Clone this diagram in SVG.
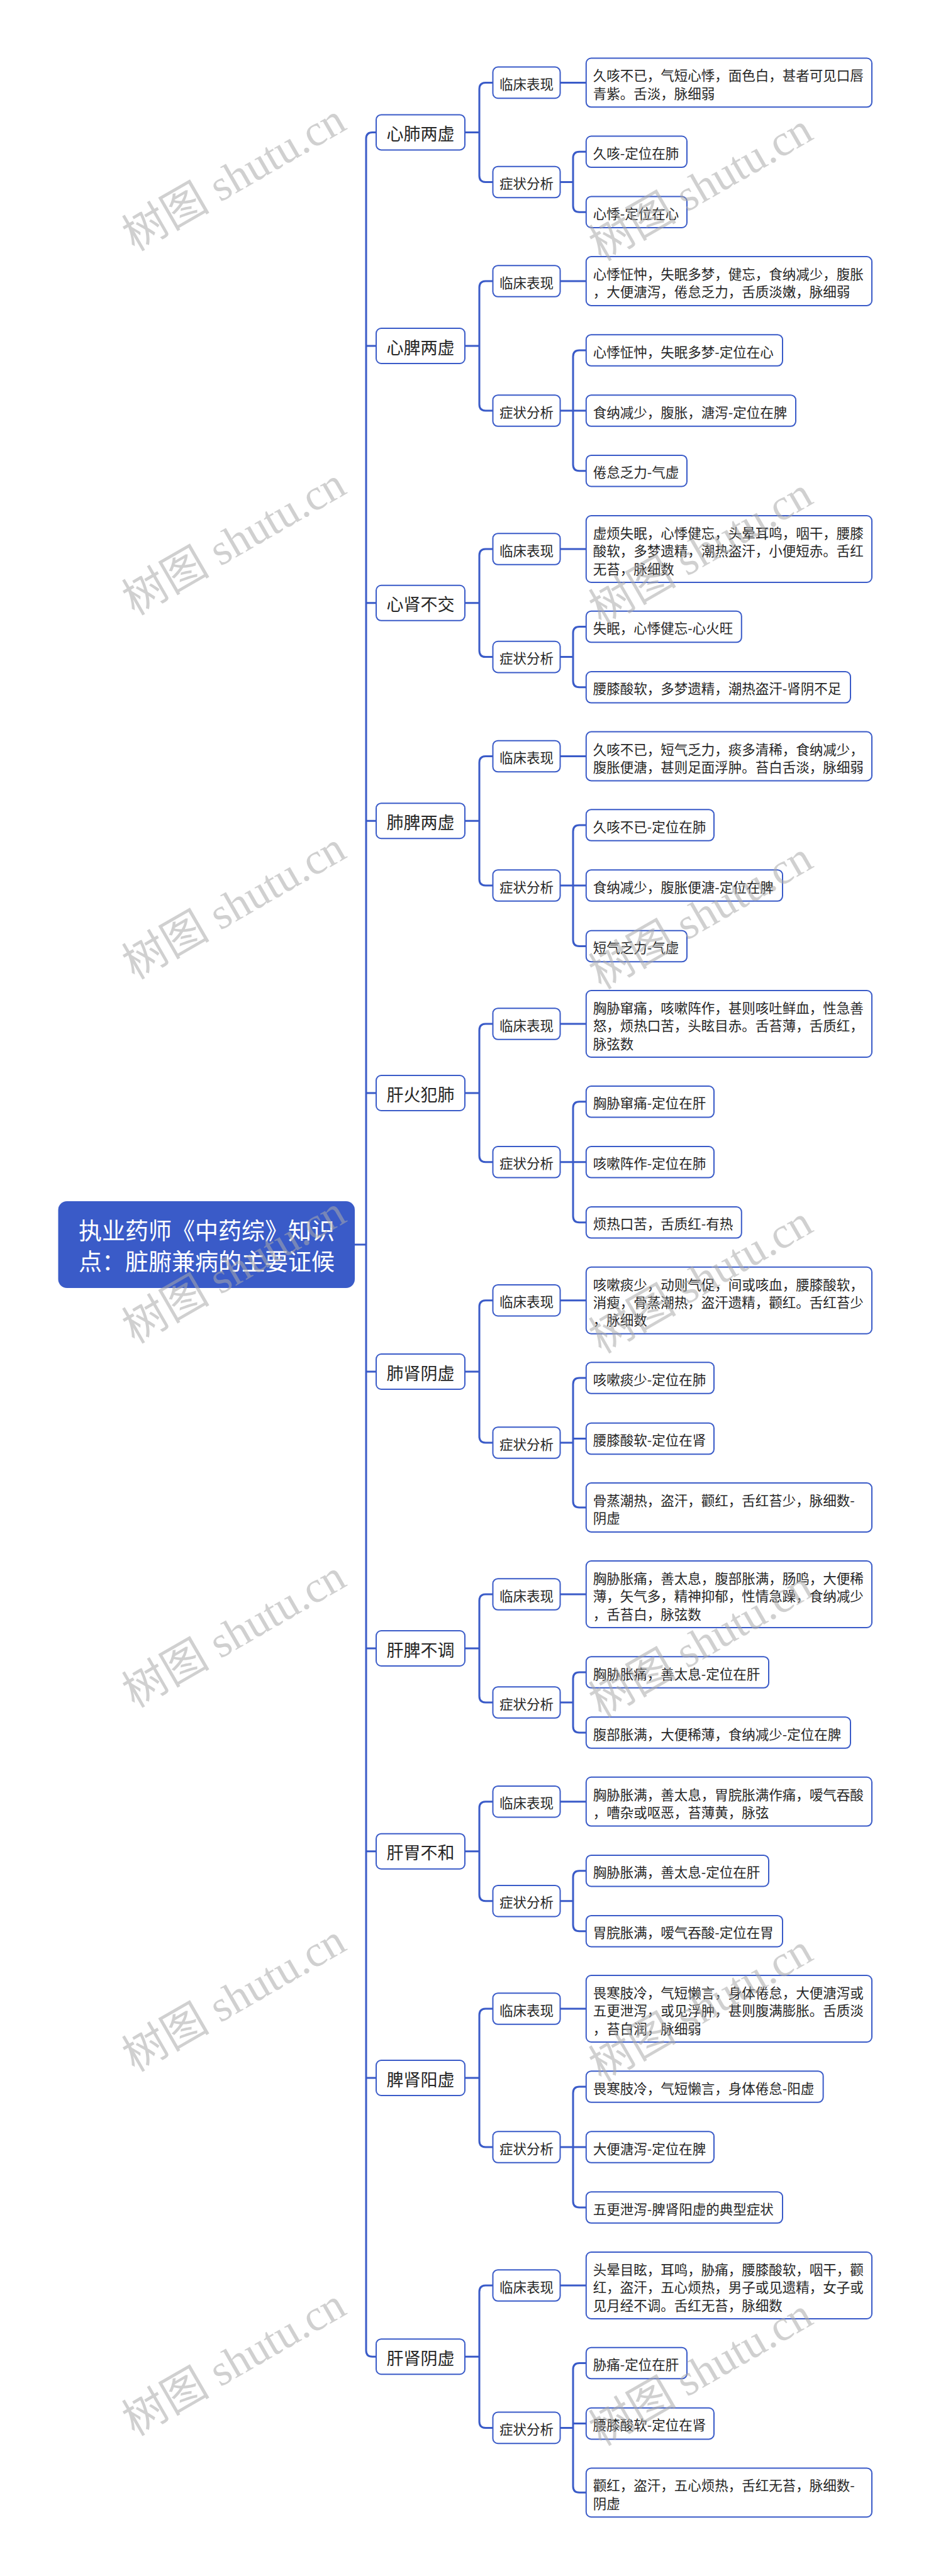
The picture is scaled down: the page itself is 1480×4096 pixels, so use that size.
<svg xmlns="http://www.w3.org/2000/svg" width="1480" height="4096" viewBox="0 0 1480 4096">
<style>
.bx{fill:#fff;stroke:#3a5bc8;stroke-width:2}
.t{font-family:"Noto Sans CJK SC","Liberation Sans",sans-serif;fill:#262626;dominant-baseline:central}
.s{font-size:21.5px}
.m{font-size:27px;text-anchor:middle}
.l2{font-size:21.5px;text-anchor:middle}
.c{fill:none;stroke:#3a5bc8;stroke-width:3}
.wm{font-family:"Liberation Serif","Noto Sans CJK SC",serif;font-size:70px;fill:#aaaaaa;fill-opacity:0.55;text-anchor:middle;dominant-baseline:central}
</style>
<rect x="0" y="0" width="1480" height="4096" fill="#ffffff"/>
<g id="connectors">
<path class="c" d="M564,1979 H582"/>
<path class="c" d="M598,210.4 H592 Q582,210.4 582,220.4 V3737.2 Q582,3747.2 592,3747.2 H598"/>
<path class="c" d="M582,550 H598 M582,958.8 H598 M582,1305.2 H598 M582,1738 H598 M582,2181 H598 M582,2621 H598 M582,2943.7 H598 M582,3304 H598"/>
<path class="c" d="M739,210.4 H762 M783.5,131.4 H772 Q762,131.4 762,141.4 V279.5 Q762,289.5 772,289.5 H783.5"/>
<path class="c" d="M739,550 H762 M783.5,447 H772 Q762,447 762,457 V643 Q762,653 772,653 H783.5"/>
<path class="c" d="M739,958.8 H762 M783.5,873 H772 Q762,873 762,883 V1034.6 Q762,1044.6 772,1044.6 H783.5"/>
<path class="c" d="M739,1305.2 H762 M783.5,1202.5 H772 Q762,1202.5 762,1212.5 V1398 Q762,1408 772,1408 H783.5"/>
<path class="c" d="M739,1738 H762 M783.5,1628 H772 Q762,1628 762,1638 V1837.8 Q762,1847.8 772,1847.8 H783.5"/>
<path class="c" d="M739,2181 H762 M783.5,2067.7 H772 Q762,2067.7 762,2077.7 V2284 Q762,2294 772,2294 H783.5"/>
<path class="c" d="M739,2621 H762 M783.5,2535 H772 Q762,2535 762,2545 V2697 Q762,2707 772,2707 H783.5"/>
<path class="c" d="M739,2943.7 H762 M783.5,2864.7 H772 Q762,2864.7 762,2874.7 V3012.7 Q762,3022.7 772,3022.7 H783.5"/>
<path class="c" d="M739,3304 H762 M783.5,3194 H772 Q762,3194 762,3204 V3404 Q762,3414 772,3414 H783.5"/>
<path class="c" d="M739,3747.2 H762 M783.5,3634 H772 Q762,3634 762,3644 V3850.4 Q762,3860.4 772,3860.4 H783.5"/>
<path class="c" d="M890.5,131.4 H931.8 M890.5,289.5 H911 M931.8,241.3 H921 Q911,241.3 911,251.3 V327.2 Q911,337.2 921,337.2 H931.8"/>
<path class="c" d="M890.5,447 H931.8 M890.5,653 H911 M931.8,557 H921 Q911,557 911,567 V738.7 Q911,748.7 921,748.7 H931.8 M911,653 H931.8"/>
<path class="c" d="M890.5,873 H931.8 M890.5,1044.6 H911 M931.8,996.5 H921 Q911,996.5 911,1006.5 V1082.8 Q911,1092.8 921,1092.8 H931.8"/>
<path class="c" d="M890.5,1202.5 H931.8 M890.5,1408 H911 M931.8,1312 H921 Q911,1312 911,1322 V1494.5 Q911,1504.5 921,1504.5 H931.8 M911,1408 H931.8"/>
<path class="c" d="M890.5,1628 H931.8 M890.5,1847.8 H911 M931.8,1751.8 H921 Q911,1751.8 911,1761.8 V1933.8 Q911,1943.8 921,1943.8 H931.8 M911,1847.8 H931.8"/>
<path class="c" d="M890.5,2067.7 H931.8 M890.5,2294 H911 M931.8,2191 H921 Q911,2191 911,2201 V2387 Q911,2397 921,2397 H931.8 M911,2287.5 H931.8"/>
<path class="c" d="M890.5,2535 H931.8 M890.5,2707 H911 M931.8,2659 H921 Q911,2659 911,2669 V2745 Q911,2755 921,2755 H931.8"/>
<path class="c" d="M890.5,2864.7 H931.8 M890.5,3022.7 H911 M931.8,2974.7 H921 Q911,2974.7 911,2984.7 V3060.7 Q911,3070.7 921,3070.7 H931.8"/>
<path class="c" d="M890.5,3194 H931.8 M890.5,3414 H911 M931.8,3318 H921 Q911,3318 911,3328 V3500 Q911,3510 921,3510 H931.8 M911,3414 H931.8"/>
<path class="c" d="M890.5,3634 H931.8 M890.5,3860.4 H911 M931.8,3757.5 H921 Q911,3757.5 911,3767.5 V3953.3 Q911,3963.3 921,3963.3 H931.8 M911,3853.6 H931.8"/>
</g>
<g id="root">
<rect x="92.5" y="1910" width="471.5" height="138" rx="14" fill="#3a5bc8"/>
<text font-family="'Noto Sans CJK SC','Liberation Sans',sans-serif" font-size="37" fill="#ffffff" text-anchor="middle" dominant-baseline="central"><tspan x="328.5" y="1955">执业药师《中药综》知识</tspan><tspan x="328.5" y="2004">点：脏腑兼病的主要证候</tspan></text>
</g>
<g id="l1-1"><rect class="bx" x="598" y="182.4" width="141" height="56" rx="8"/><text class="t m" x="668.5" y="211.4">心肺两虚</text></g>
<g id="l1-2"><rect class="bx" x="598" y="522" width="141" height="56" rx="8"/><text class="t m" x="668.5" y="551">心脾两虚</text></g>
<g id="l1-3"><rect class="bx" x="598" y="930.8" width="141" height="56" rx="8"/><text class="t m" x="668.5" y="959.8">心肾不交</text></g>
<g id="l1-4"><rect class="bx" x="598" y="1277.2" width="141" height="56" rx="8"/><text class="t m" x="668.5" y="1306.2">肺脾两虚</text></g>
<g id="l1-5"><rect class="bx" x="598" y="1710" width="141" height="56" rx="8"/><text class="t m" x="668.5" y="1739">肝火犯肺</text></g>
<g id="l1-6"><rect class="bx" x="598" y="2153" width="141" height="56" rx="8"/><text class="t m" x="668.5" y="2182">肺肾阴虚</text></g>
<g id="l1-7"><rect class="bx" x="598" y="2593" width="141" height="56" rx="8"/><text class="t m" x="668.5" y="2622">肝脾不调</text></g>
<g id="l1-8"><rect class="bx" x="598" y="2915.7" width="141" height="56" rx="8"/><text class="t m" x="668.5" y="2944.7">肝胃不和</text></g>
<g id="l1-9"><rect class="bx" x="598" y="3276" width="141" height="56" rx="8"/><text class="t m" x="668.5" y="3305">脾肾阳虚</text></g>
<g id="l1-10"><rect class="bx" x="598" y="3719.2" width="141" height="56" rx="8"/><text class="t m" x="668.5" y="3748.2">肝肾阴虚</text></g>
<g id="l2-1a"><rect class="bx" x="783.5" y="106.6" width="107" height="49.6" rx="8"/><text class="t l2" x="837" y="132.4">临床表现</text></g>
<g id="l2-1b"><rect class="bx" x="783.5" y="264.7" width="107" height="49.6" rx="8"/><text class="t l2" x="837" y="290.5">症状分析</text></g>
<g id="l2-2a"><rect class="bx" x="783.5" y="422.2" width="107" height="49.6" rx="8"/><text class="t l2" x="837" y="448">临床表现</text></g>
<g id="l2-2b"><rect class="bx" x="783.5" y="628.2" width="107" height="49.6" rx="8"/><text class="t l2" x="837" y="654">症状分析</text></g>
<g id="l2-3a"><rect class="bx" x="783.5" y="848.2" width="107" height="49.6" rx="8"/><text class="t l2" x="837" y="874">临床表现</text></g>
<g id="l2-3b"><rect class="bx" x="783.5" y="1019.8" width="107" height="49.6" rx="8"/><text class="t l2" x="837" y="1045.6">症状分析</text></g>
<g id="l2-4a"><rect class="bx" x="783.5" y="1177.7" width="107" height="49.6" rx="8"/><text class="t l2" x="837" y="1203.5">临床表现</text></g>
<g id="l2-4b"><rect class="bx" x="783.5" y="1383.2" width="107" height="49.6" rx="8"/><text class="t l2" x="837" y="1409">症状分析</text></g>
<g id="l2-5a"><rect class="bx" x="783.5" y="1603.2" width="107" height="49.6" rx="8"/><text class="t l2" x="837" y="1629">临床表现</text></g>
<g id="l2-5b"><rect class="bx" x="783.5" y="1823" width="107" height="49.6" rx="8"/><text class="t l2" x="837" y="1848.8">症状分析</text></g>
<g id="l2-6a"><rect class="bx" x="783.5" y="2042.9" width="107" height="49.6" rx="8"/><text class="t l2" x="837" y="2068.7">临床表现</text></g>
<g id="l2-6b"><rect class="bx" x="783.5" y="2269.2" width="107" height="49.6" rx="8"/><text class="t l2" x="837" y="2295">症状分析</text></g>
<g id="l2-7a"><rect class="bx" x="783.5" y="2510.2" width="107" height="49.6" rx="8"/><text class="t l2" x="837" y="2536">临床表现</text></g>
<g id="l2-7b"><rect class="bx" x="783.5" y="2682.2" width="107" height="49.6" rx="8"/><text class="t l2" x="837" y="2708">症状分析</text></g>
<g id="l2-8a"><rect class="bx" x="783.5" y="2839.9" width="107" height="49.6" rx="8"/><text class="t l2" x="837" y="2865.7">临床表现</text></g>
<g id="l2-8b"><rect class="bx" x="783.5" y="2997.9" width="107" height="49.6" rx="8"/><text class="t l2" x="837" y="3023.7">症状分析</text></g>
<g id="l2-9a"><rect class="bx" x="783.5" y="3169.2" width="107" height="49.6" rx="8"/><text class="t l2" x="837" y="3195">临床表现</text></g>
<g id="l2-9b"><rect class="bx" x="783.5" y="3389.2" width="107" height="49.6" rx="8"/><text class="t l2" x="837" y="3415">症状分析</text></g>
<g id="l2-10a"><rect class="bx" x="783.5" y="3609.2" width="107" height="49.6" rx="8"/><text class="t l2" x="837" y="3635">临床表现</text></g>
<g id="l2-10b"><rect class="bx" x="783.5" y="3835.6" width="107" height="49.6" rx="8"/><text class="t l2" x="837" y="3861.4">症状分析</text></g>
<g id="leaf-1a"><rect class="bx" x="931.8" y="92.5" width="454.2" height="77.8" rx="8"/><text class="t s"><tspan x="942.8" y="118.4">久咳不已，气短心悸，面色白，甚者可见口唇</tspan><tspan x="942.8" y="146.8">青紫。舌淡，脉细弱</tspan></text></g>
<g id="leaf-1b"><rect class="bx" x="931.8" y="216.5" width="160.2" height="49.6" rx="8"/><text class="t s" x="942.8" y="242.3">久咳-定位在肺</text></g>
<g id="leaf-1c"><rect class="bx" x="931.8" y="312.4" width="160.2" height="49.6" rx="8"/><text class="t s" x="942.8" y="338.2">心悸-定位在心</text></g>
<g id="leaf-2a"><rect class="bx" x="931.8" y="408.1" width="454.2" height="77.8" rx="8"/><text class="t s"><tspan x="942.8" y="434">心悸怔忡，失眠多梦，健忘，食纳减少，腹胀</tspan><tspan x="942.8" y="462.4">，大便溏泻，倦怠乏力，舌质淡嫩，脉细弱</tspan></text></g>
<g id="leaf-2b"><rect class="bx" x="931.8" y="532.2" width="312.2" height="49.6" rx="8"/><text class="t s" x="942.8" y="558">心悸怔忡，失眠多梦-定位在心</text></g>
<g id="leaf-2c"><rect class="bx" x="931.8" y="628.2" width="333.2" height="49.6" rx="8"/><text class="t s" x="942.8" y="654">食纳减少，腹胀，溏泻-定位在脾</text></g>
<g id="leaf-2d"><rect class="bx" x="931.8" y="723.9" width="160.2" height="49.6" rx="8"/><text class="t s" x="942.8" y="749.7">倦怠乏力-气虚</text></g>
<g id="leaf-3a"><rect class="bx" x="931.8" y="820" width="454.2" height="106" rx="8"/><text class="t s"><tspan x="942.8" y="845.8">虚烦失眠，心悸健忘，头晕耳鸣，咽干，腰膝</tspan><tspan x="942.8" y="874.2">酸软，多梦遗精，潮热盗汗，小便短赤。舌红</tspan><tspan x="942.8" y="902.6">无苔，脉细数</tspan></text></g>
<g id="leaf-3b"><rect class="bx" x="931.8" y="971.7" width="247" height="49.6" rx="8"/><text class="t s" x="942.8" y="997.5">失眠，心悸健忘-心火旺</text></g>
<g id="leaf-3c"><rect class="bx" x="931.8" y="1068" width="420.2" height="49.6" rx="8"/><text class="t s" x="942.8" y="1093.8">腰膝酸软，多梦遗精，潮热盗汗-肾阴不足</text></g>
<g id="leaf-4a"><rect class="bx" x="931.8" y="1163.6" width="454.2" height="77.8" rx="8"/><text class="t s"><tspan x="942.8" y="1189.5">久咳不已，短气乏力，痰多清稀，食纳减少，</tspan><tspan x="942.8" y="1217.9">腹胀便溏，甚则足面浮肿。苔白舌淡，脉细弱</tspan></text></g>
<g id="leaf-4b"><rect class="bx" x="931.8" y="1287.2" width="203.2" height="49.6" rx="8"/><text class="t s" x="942.8" y="1313">久咳不已-定位在肺</text></g>
<g id="leaf-4c"><rect class="bx" x="931.8" y="1383.2" width="312.2" height="49.6" rx="8"/><text class="t s" x="942.8" y="1409">食纳减少，腹胀便溏-定位在脾</text></g>
<g id="leaf-4d"><rect class="bx" x="931.8" y="1479.7" width="160.2" height="49.6" rx="8"/><text class="t s" x="942.8" y="1505.5">短气乏力-气虚</text></g>
<g id="leaf-5a"><rect class="bx" x="931.8" y="1575" width="454.2" height="106" rx="8"/><text class="t s"><tspan x="942.8" y="1600.8">胸胁窜痛，咳嗽阵作，甚则咳吐鲜血，性急善</tspan><tspan x="942.8" y="1629.2">怒，烦热口苦，头眩目赤。舌苔薄，舌质红，</tspan><tspan x="942.8" y="1657.6">脉弦数</tspan></text></g>
<g id="leaf-5b"><rect class="bx" x="931.8" y="1727" width="203.2" height="49.6" rx="8"/><text class="t s" x="942.8" y="1752.8">胸胁窜痛-定位在肝</text></g>
<g id="leaf-5c"><rect class="bx" x="931.8" y="1823" width="203.2" height="49.6" rx="8"/><text class="t s" x="942.8" y="1848.8">咳嗽阵作-定位在肺</text></g>
<g id="leaf-5d"><rect class="bx" x="931.8" y="1919" width="247" height="49.6" rx="8"/><text class="t s" x="942.8" y="1944.8">烦热口苦，舌质红-有热</text></g>
<g id="leaf-6a"><rect class="bx" x="931.8" y="2014.7" width="454.2" height="106" rx="8"/><text class="t s"><tspan x="942.8" y="2040.5">咳嗽痰少，动则气促，间或咳血，腰膝酸软，</tspan><tspan x="942.8" y="2068.9">消瘦，骨蒸潮热，盗汗遗精，颧红。舌红苔少</tspan><tspan x="942.8" y="2097.3">，脉细数</tspan></text></g>
<g id="leaf-6b"><rect class="bx" x="931.8" y="2166.2" width="203.2" height="49.6" rx="8"/><text class="t s" x="942.8" y="2192">咳嗽痰少-定位在肺</text></g>
<g id="leaf-6c"><rect class="bx" x="931.8" y="2262.7" width="203.2" height="49.6" rx="8"/><text class="t s" x="942.8" y="2288.5">腰膝酸软-定位在肾</text></g>
<g id="leaf-6d"><rect class="bx" x="931.8" y="2358.1" width="454.2" height="77.8" rx="8"/><text class="t s"><tspan x="942.8" y="2384">骨蒸潮热，盗汗，颧红，舌红苔少，脉细数-</tspan><tspan x="942.8" y="2412.4">阴虚</tspan></text></g>
<g id="leaf-7a"><rect class="bx" x="931.8" y="2482" width="454.2" height="106" rx="8"/><text class="t s"><tspan x="942.8" y="2507.8">胸胁胀痛，善太息，腹部胀满，肠鸣，大便稀</tspan><tspan x="942.8" y="2536.2">薄，矢气多，精神抑郁，性情急躁，食纳减少</tspan><tspan x="942.8" y="2564.6">，舌苔白，脉弦数</tspan></text></g>
<g id="leaf-7b"><rect class="bx" x="931.8" y="2634.2" width="290.2" height="49.6" rx="8"/><text class="t s" x="942.8" y="2660">胸胁胀痛，善太息-定位在肝</text></g>
<g id="leaf-7c"><rect class="bx" x="931.8" y="2730.2" width="420.2" height="49.6" rx="8"/><text class="t s" x="942.8" y="2756">腹部胀满，大便稀薄，食纳减少-定位在脾</text></g>
<g id="leaf-8a"><rect class="bx" x="931.8" y="2825.8" width="454.2" height="77.8" rx="8"/><text class="t s"><tspan x="942.8" y="2851.7">胸胁胀满，善太息，胃脘胀满作痛，嗳气吞酸</tspan><tspan x="942.8" y="2880.1">，嘈杂或呕恶，苔薄黄，脉弦</tspan></text></g>
<g id="leaf-8b"><rect class="bx" x="931.8" y="2949.9" width="290.2" height="49.6" rx="8"/><text class="t s" x="942.8" y="2975.7">胸胁胀满，善太息-定位在肝</text></g>
<g id="leaf-8c"><rect class="bx" x="931.8" y="3045.9" width="312.2" height="49.6" rx="8"/><text class="t s" x="942.8" y="3071.7">胃脘胀满，嗳气吞酸-定位在胃</text></g>
<g id="leaf-9a"><rect class="bx" x="931.8" y="3141" width="454.2" height="106" rx="8"/><text class="t s"><tspan x="942.8" y="3166.8">畏寒肢冷，气短懒言，身体倦怠，大便溏泻或</tspan><tspan x="942.8" y="3195.2">五更泄泻，或见浮肿，甚则腹满膨胀。舌质淡</tspan><tspan x="942.8" y="3223.6">，苔白润，脉细弱</tspan></text></g>
<g id="leaf-9b"><rect class="bx" x="931.8" y="3293.2" width="376.8" height="49.6" rx="8"/><text class="t s" x="942.8" y="3319">畏寒肢冷，气短懒言，身体倦怠-阳虚</text></g>
<g id="leaf-9c"><rect class="bx" x="931.8" y="3389.2" width="203.2" height="49.6" rx="8"/><text class="t s" x="942.8" y="3415">大便溏泻-定位在脾</text></g>
<g id="leaf-9d"><rect class="bx" x="931.8" y="3485.2" width="312.2" height="49.6" rx="8"/><text class="t s" x="942.8" y="3511">五更泄泻-脾肾阳虚的典型症状</text></g>
<g id="leaf-10a"><rect class="bx" x="931.8" y="3581" width="454.2" height="106" rx="8"/><text class="t s"><tspan x="942.8" y="3606.8">头晕目眩，耳鸣，胁痛，腰膝酸软，咽干，颧</tspan><tspan x="942.8" y="3635.2">红，盗汗，五心烦热，男子或见遗精，女子或</tspan><tspan x="942.8" y="3663.6">见月经不调。舌红无苔，脉细数</tspan></text></g>
<g id="leaf-10b"><rect class="bx" x="931.8" y="3732.7" width="160.2" height="49.6" rx="8"/><text class="t s" x="942.8" y="3758.5">胁痛-定位在肝</text></g>
<g id="leaf-10c"><rect class="bx" x="931.8" y="3828.8" width="203.2" height="49.6" rx="8"/><text class="t s" x="942.8" y="3854.6">腰膝酸软-定位在肾</text></g>
<g id="leaf-10d"><rect class="bx" x="931.8" y="3924.4" width="454.2" height="77.8" rx="8"/><text class="t s"><tspan x="942.8" y="3950.3">颧红，盗汗，五心烦热，舌红无苔，脉细数-</tspan><tspan x="942.8" y="3978.7">阴虚</tspan></text></g>
<g id="watermark">
<text class="wm" transform="translate(1114,297.7) rotate(-30)">树图 shutu.cn</text>
<text class="wm" transform="translate(1114,876.7) rotate(-30)">树图 shutu.cn</text>
<text class="wm" transform="translate(1114,1455.7) rotate(-30)">树图 shutu.cn</text>
<text class="wm" transform="translate(1114,2034.7) rotate(-30)">树图 shutu.cn</text>
<text class="wm" transform="translate(1114,2613.7) rotate(-30)">树图 shutu.cn</text>
<text class="wm" transform="translate(1114,3192.7) rotate(-30)">树图 shutu.cn</text>
<text class="wm" transform="translate(1114,3771.7) rotate(-30)">树图 shutu.cn</text>
<text class="wm" transform="translate(372,282) rotate(-30)">树图 shutu.cn</text>
<text class="wm" transform="translate(372,861) rotate(-30)">树图 shutu.cn</text>
<text class="wm" transform="translate(372,1440) rotate(-30)">树图 shutu.cn</text>
<text class="wm" transform="translate(372,2019) rotate(-30)">树图 shutu.cn</text>
<text class="wm" transform="translate(372,2598) rotate(-30)">树图 shutu.cn</text>
<text class="wm" transform="translate(372,3177) rotate(-30)">树图 shutu.cn</text>
<text class="wm" transform="translate(372,3756) rotate(-30)">树图 shutu.cn</text>
</g>
</svg>
